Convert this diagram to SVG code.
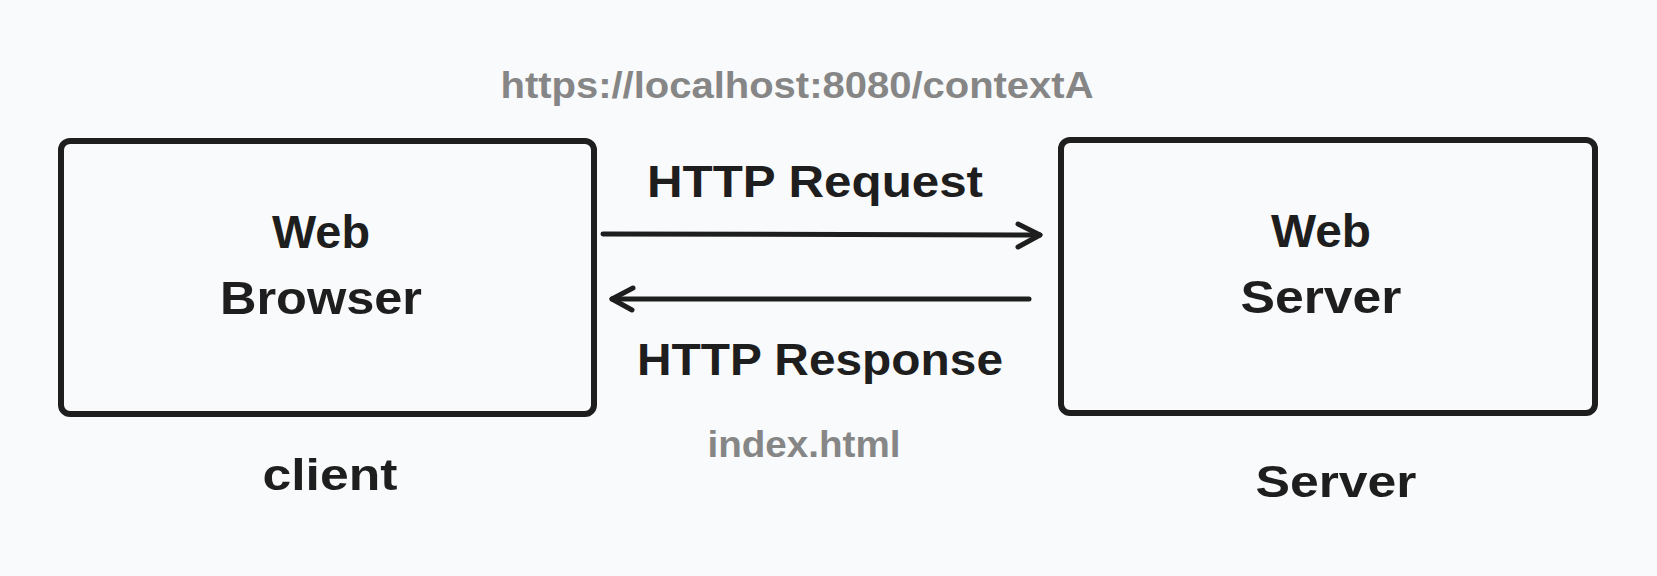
<svg xmlns="http://www.w3.org/2000/svg" width="1657" height="576" viewBox="0 0 1657 576">
  <style>
    .box { fill: none; stroke: #1e1e1e; stroke-width: 6; }
    .lbl { font-family: "Liberation Sans", Arial, sans-serif; font-weight: bold; fill: #1e1e1e; text-anchor: middle; }
    .gray { font-family: "Liberation Sans", Arial, sans-serif; font-weight: bold; fill: #868686; text-anchor: middle; }
    .conn { fill: none; stroke: #1e1e1e; stroke-width: 5; stroke-linecap: round; stroke-linejoin: round; }
  </style>
  <rect width="1657" height="576" fill="#f9fafb"/>

  <g id="node-browser">
    <rect class="box" x="61" y="141" width="533" height="273" rx="9"/>
    <text class="lbl" x="321" y="248" font-size="47" textLength="98" lengthAdjust="spacingAndGlyphs">Web</text>
    <text class="lbl" x="321" y="314" font-size="47" textLength="202" lengthAdjust="spacingAndGlyphs">Browser</text>
  </g>

  <g id="node-server">
    <rect class="box" x="1061" y="140" width="534" height="273" rx="9"/>
    <text class="lbl" x="1321" y="247" font-size="47" textLength="100" lengthAdjust="spacingAndGlyphs">Web</text>
    <text class="lbl" x="1321" y="313" font-size="47" textLength="161" lengthAdjust="spacingAndGlyphs">Server</text>
  </g>

  <g id="label-client">
    <text class="lbl" x="330" y="490" font-size="45" textLength="135" lengthAdjust="spacingAndGlyphs">client</text>
  </g>

  <g id="label-server">
    <text class="lbl" x="1336" y="497" font-size="45" textLength="161" lengthAdjust="spacingAndGlyphs">Server</text>
  </g>

  <g id="connectors">
    <g id="request">
      <path class="conn" d="M603 234 L1040 235"/>
      <path class="conn" d="M1018 224 L1040 235 L1018 247"/>
      <text class="lbl" x="815" y="197" font-size="44" textLength="336" lengthAdjust="spacingAndGlyphs">HTTP Request</text>
      <text class="gray" x="797" y="98" font-size="36" textLength="593" lengthAdjust="spacingAndGlyphs">https://localhost:8080/contextA</text>
    </g>
    <g id="response">
      <path class="conn" d="M1029 299 L612 299"/>
      <path class="conn" d="M633 288 L612 299 L632 310"/>
      <text class="lbl" x="820" y="375" font-size="44" textLength="366" lengthAdjust="spacingAndGlyphs">HTTP Response</text>
      <text class="gray" x="804" y="457" font-size="36" textLength="193" lengthAdjust="spacingAndGlyphs">index.html</text>
    </g>
  </g>
</svg>
